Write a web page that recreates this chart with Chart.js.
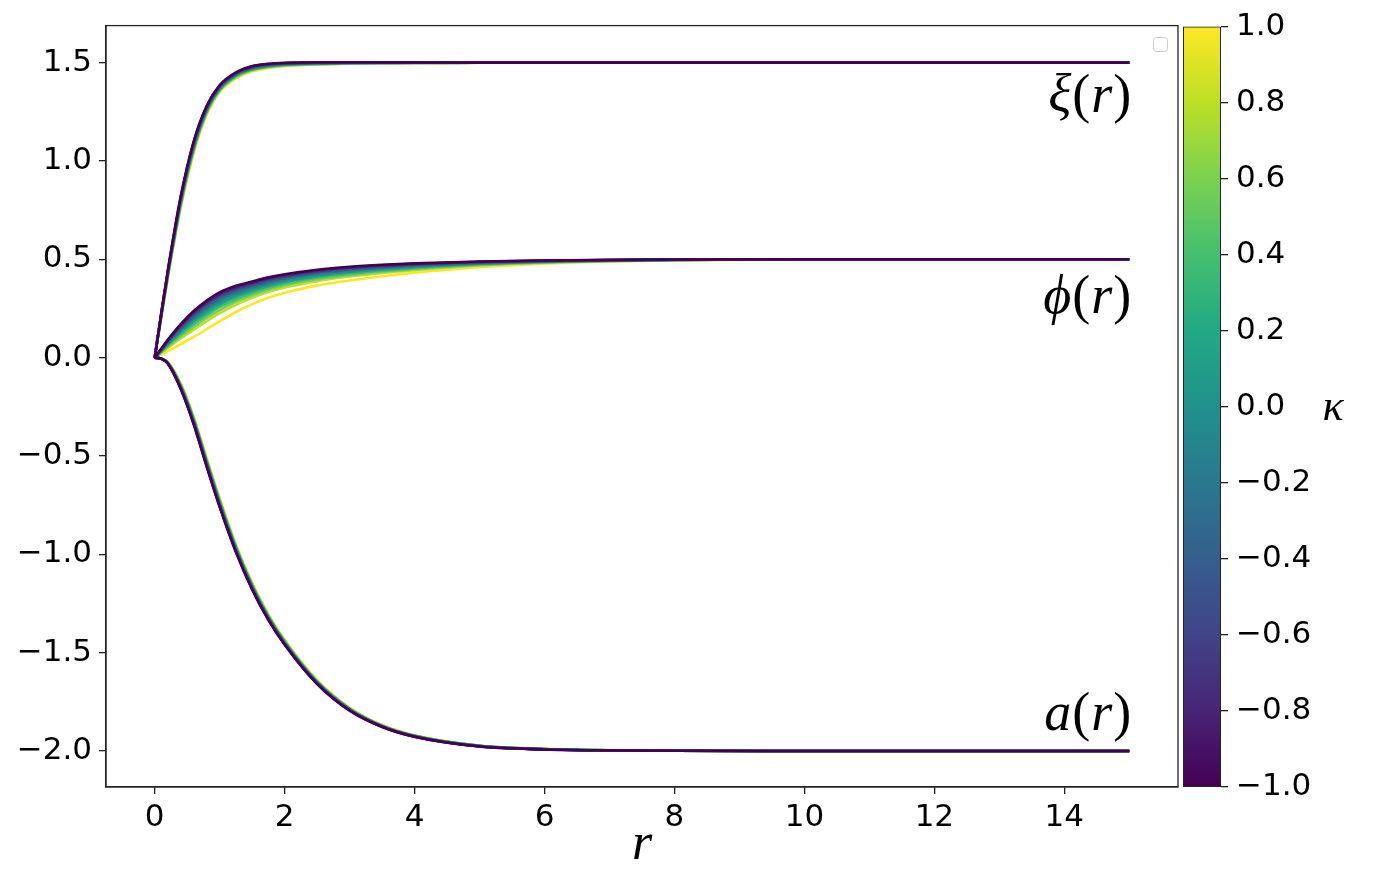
<!DOCTYPE html>
<html>
<head>
<meta charset="utf-8">
<script src="https://cdn.jsdelivr.net/npm/chart.js@4.4.1/dist/chart.umd.min.js"></script>
<style>
  body { margin: 0; background: #fff; }
  #wrap { position: relative; width: 1380px; height: 895px; }
  #wrap canvas { position: absolute; top: 0; }
</style>
</head>
<body>
<div id="wrap">
  <canvas id="mainChart" width="1380" height="895" style="left:0"></canvas>
  <canvas id="colorbar" width="230" height="895" style="left:1150px"></canvas>
</div>
<script>
// 径向坐标 r
const rValues = [0, 0.1, 0.2, 0.4, 0.6, 0.8, 1, 1.25, 1.5, 1.75, 2, 2.5, 3, 3.5, 4, 5, 6, 7, 8, 10, 15];

// 参数 κ（每条曲线一个）
const kappaValues = [-1.0, -0.8, -0.6, -0.4, -0.2, 0.0, 0.2, 0.4, 0.6, 0.8, 1.0];

// ξ(r)，按 κ 排列
const xiCurves = [
  [0, .225, .440, .820, 1.100, 1.280, 1.385, 1.450, 1.482, 1.494, 1.499, 1.502, 1.502, 1.501, 1.501, 1.500, 1.5, 1.5, 1.5, 1.5, 1.5],
  [0, .223, .436, .815, 1.095, 1.276, 1.382, 1.447, 1.480, 1.492, 1.497, 1.501, 1.501, 1.501, 1.501, 1.500, 1.5, 1.5, 1.5, 1.5, 1.5],
  [0, .221, .433, .809, 1.089, 1.272, 1.379, 1.445, 1.477, 1.490, 1.496, 1.500, 1.501, 1.500, 1.500, 1.500, 1.5, 1.5, 1.5, 1.5, 1.5],
  [0, .218, .429, .804, 1.084, 1.268, 1.376, 1.442, 1.475, 1.488, 1.494, 1.498, 1.500, 1.500, 1.500, 1.500, 1.5, 1.5, 1.5, 1.5, 1.5],
  [0, .216, .426, .798, 1.078, 1.264, 1.372, 1.439, 1.472, 1.486, 1.493, 1.497, 1.499, 1.499, 1.500, 1.500, 1.5, 1.5, 1.5, 1.5, 1.5],
  [0, .214, .422, .793, 1.073, 1.260, 1.369, 1.437, 1.470, 1.484, 1.491, 1.496, 1.498, 1.499, 1.499, 1.500, 1.5, 1.5, 1.5, 1.5, 1.5],
  [0, .211, .418, .787, 1.067, 1.255, 1.366, 1.434, 1.467, 1.482, 1.490, 1.495, 1.498, 1.498, 1.499, 1.499, 1.5, 1.5, 1.5, 1.5, 1.5],
  [0, .209, .414, .781, 1.061, 1.251, 1.362, 1.431, 1.464, 1.480, 1.488, 1.494, 1.497, 1.498, 1.498, 1.499, 1.5, 1.5, 1.5, 1.5, 1.5],
  [0, .206, .410, .775, 1.055, 1.246, 1.359, 1.428, 1.462, 1.478, 1.486, 1.492, 1.496, 1.497, 1.498, 1.499, 1.5, 1.5, 1.5, 1.5, 1.5],
  [0, .204, .406, .768, 1.048, 1.241, 1.355, 1.424, 1.459, 1.475, 1.484, 1.491, 1.495, 1.497, 1.498, 1.499, 1.5, 1.5, 1.5, 1.5, 1.5],
  [0, .200, .400, .760, 1.040, 1.235, 1.350, 1.420, 1.455, 1.472, 1.482, 1.489, 1.494, 1.496, 1.497, 1.499, 1.5, 1.5, 1.5, 1.5, 1.5]
];

// φ(r)，按 κ 排列
const phiCurves = [
  [0, .045, .090, .170, .237, .290, .332, .365, .387, .408, .424, .447, .462, .472, .479, .489, .494, .497, .499, .500, .500],
  [0, .043, .087, .164, .229, .281, .323, .357, .380, .402, .418, .442, .458, .469, .476, .487, .493, .496, .499, .500, .500],
  [0, .042, .083, .158, .221, .273, .314, .349, .373, .396, .413, .437, .454, .465, .473, .486, .492, .496, .498, .500, .500],
  [0, .039, .079, .151, .212, .262, .304, .340, .365, .388, .406, .432, .449, .461, .470, .483, .491, .495, .498, .500, .500],
  [0, .037, .075, .143, .203, .252, .294, .330, .357, .381, .400, .426, .444, .457, .467, .481, .490, .495, .498, .500, .500],
  [0, .035, .071, .135, .192, .241, .282, .320, .348, .373, .392, .419, .438, .452, .463, .479, .489, .494, .497, .500, .500],
  [0, .033, .066, .127, .182, .229, .270, .309, .339, .364, .385, .413, .433, .448, .459, .477, .487, .493, .497, .500, .500],
  [0, .030, .061, .118, .170, .216, .257, .297, .328, .355, .376, .406, .426, .442, .455, .474, .486, .492, .496, .500, .500],
  [0, .027, .055, .108, .156, .202, .242, .284, .317, .345, .367, .398, .419, .437, .450, .471, .484, .492, .496, .500, .500],
  [0, .024, .049, .097, .142, .186, .226, .269, .304, .333, .356, .389, .412, .430, .445, .468, .482, .491, .495, .500, .500],
  [0, .016, .033, .068, .105, .145, .185, .232, .272, .304, .330, .366, .392, .414, .432, .460, .478, .488, .494, .499, .500]
];

// a(r)，按 κ 排列
const aCurves = [
  [0, -.006, -.030, -.160, -.340, -.555, -.760, -.990, -1.180, -1.335, -1.460, -1.660, -1.795, -1.878, -1.928, -1.977, -1.992, -1.997, -1.999, -2, -2],
  [0, -.006, -.029, -.157, -.336, -.551, -.756, -.986, -1.177, -1.332, -1.458, -1.658, -1.794, -1.877, -1.927, -1.977, -1.992, -1.997, -1.999, -2, -2],
  [0, -.006, -.029, -.155, -.333, -.547, -.752, -.983, -1.174, -1.330, -1.456, -1.656, -1.792, -1.876, -1.927, -1.976, -1.991, -1.997, -1.999, -2, -2],
  [0, -.005, -.028, -.152, -.329, -.543, -.748, -.979, -1.171, -1.327, -1.453, -1.655, -1.791, -1.875, -1.926, -1.976, -1.991, -1.997, -1.999, -2, -2],
  [0, -.005, -.027, -.149, -.326, -.539, -.744, -.976, -1.167, -1.324, -1.451, -1.653, -1.790, -1.874, -1.925, -1.975, -1.991, -1.997, -1.999, -2, -2],
  [0, -.005, -.026, -.147, -.322, -.535, -.740, -.972, -1.164, -1.322, -1.449, -1.651, -1.788, -1.874, -1.924, -1.975, -1.991, -1.997, -1.999, -2, -2],
  [0, -.005, -.026, -.144, -.318, -.530, -.735, -.968, -1.161, -1.319, -1.446, -1.649, -1.787, -1.873, -1.924, -1.974, -1.990, -1.996, -1.999, -2, -2],
  [0, -.005, -.025, -.141, -.314, -.526, -.731, -.964, -1.157, -1.316, -1.444, -1.647, -1.785, -1.872, -1.923, -1.974, -1.990, -1.996, -1.999, -2, -2],
  [0, -.005, -.024, -.138, -.310, -.521, -.726, -.960, -1.154, -1.313, -1.441, -1.645, -1.784, -1.871, -1.922, -1.973, -1.990, -1.996, -1.999, -2, -2],
  [0, -.004, -.023, -.134, -.306, -.516, -.721, -.956, -1.150, -1.309, -1.439, -1.643, -1.782, -1.869, -1.921, -1.973, -1.989, -1.996, -1.999, -2, -2],
  [0, -.004, -.022, -.130, -.300, -.510, -.715, -.950, -1.145, -1.305, -1.435, -1.640, -1.780, -1.868, -1.920, -1.972, -1.989, -1.996, -1.999, -2, -2]
];

// 刻度
const xTicks = [0, 2, 4, 6, 8, 10, 12, 14];
const yTicks = [-2.0, -1.5, -1.0, -0.5, 0.0, 0.5, 1.0, 1.5];
const cbTicks = [-1.0, -0.8, -0.6, -0.4, -0.2, 0.0, 0.2, 0.4, 0.6, 0.8, 1.0];

// viridis 色表（与 kappaValues 一一对应）
const viridis = ['#440154', '#482475', '#414487', '#355f8d', '#2a788e', '#21918c',
                 '#22a884', '#44bf70', '#7ad151', '#bddf26', '#fde725'];

const tickFont = { family: 'DejaVu Sans', size: 31 };
const axisColor = '#222';

function fmtTick(v) {
  return (v < 0 ? '\u2212' : '') + Math.abs(v).toFixed(1);
}

function setTicks(list) {
  return function(scale) {
    scale.ticks = list.map(v => ({ value: v }));
  };
}

// 生成数据集：κ=-1 在最上层
function buildDatasets() {
  const datasets = [];
  [xiCurves, phiCurves, aCurves].forEach(curves => {
    curves.forEach((ys, k) => {
      datasets.push({
        data: rValues.map((r, i) => ({ x: r, y: ys[i] })),
        borderColor: viridis[k],
        borderWidth: 2.6,
        pointRadius: 0,
        fill: false,
        cubicInterpolationMode: 'monotone',
        order: k
      });
    });
  });
  return datasets;
}

// 类似 mathtext：字母斜体、括号正体，右对齐
function drawMath(ctx, symbol, xRight, y, size) {
  const italic = `italic ${size}px "Liberation Serif", "DejaVu Serif", serif`;
  const upright = `${size}px "Liberation Serif", "DejaVu Serif", serif`;
  const parts = [[symbol, italic], ['(', upright], ['r', italic], [')', upright]];
  let total = 0;
  parts.forEach(([t, f]) => { ctx.font = f; total += ctx.measureText(t).width + 1; });
  let x = xRight - total;
  ctx.textAlign = 'left';
  parts.forEach(([t, f]) => {
    ctx.font = f;
    ctx.fillText(t, x, y);
    x += ctx.measureText(t).width + 1;
  });
}

// 四周边框、曲线标注、空图例框
const framePlugin = {
  id: 'frame',
  afterDraw(chart) {
    const { ctx, chartArea: a, scales } = chart;
    ctx.save();
    ctx.strokeStyle = axisColor;
    ctx.lineWidth = 1.3;
    ctx.strokeRect(a.left, a.top, a.right - a.left, a.bottom - a.top);

    ctx.fillStyle = '#000';
    ctx.textBaseline = 'middle';
    const labels = [['ξ', 1.32], ['ϕ', 0.30], ['a', -1.82]];
    labels.forEach(([sym, y]) => {
      drawMath(ctx, sym, scales.x.getPixelForValue(15) + 3, scales.y.getPixelForValue(y), 54);
    });

    // 空图例
    ctx.strokeStyle = '#cccccc';
    ctx.lineWidth = 1;
    ctx.beginPath();
    ctx.roundRect(1153.5, 37.5, 14, 14, 3);
    ctx.stroke();
    ctx.restore();
  }
};

new Chart(document.getElementById('mainChart'), {
  type: 'line',
  data: { datasets: buildDatasets() },
  options: {
    responsive: false,
    animation: false,
    devicePixelRatio: 1,
    layout: { padding: { top: 25, right: 202, bottom: 0, left: 0 } },
    plugins: { legend: { display: false }, tooltip: { enabled: false } },
    scales: {
      x: {
        type: 'linear',
        min: -0.75,
        max: 15.75,
        afterBuildTicks: setTicks(xTicks),
        afterFit(scale) { scale.height = 108; },
        grid: { drawOnChartArea: false, tickLength: 7, color: axisColor, lineWidth: 1.3 },
        border: { display: true, color: axisColor, width: 1.3 },
        ticks: { font: tickFont, color: '#000', padding: 5, maxRotation: 0,
                 callback: v => String(v) },
        title: { display: true, text: 'r', color: '#000',
                 font: { family: 'Liberation Serif', style: 'italic', size: 52 },
                 padding: { top: 0, bottom: 18 } }
      },
      y: {
        type: 'linear',
        min: -2.183,
        max: 1.688,
        afterBuildTicks: setTicks(yTicks),
        afterFit(scale) { scale.width = 106; },
        grid: { drawOnChartArea: false, tickLength: 7, color: axisColor, lineWidth: 1.3 },
        border: { display: true, color: axisColor, width: 1.3 },
        ticks: { font: tickFont, color: '#000', padding: 7, callback: v => fmtTick(v) }
      }
    }
  },
  plugins: [framePlugin]
});

// 色条
const kappaLabelPlugin = {
  id: 'kappaLabel',
  afterDraw(chart) {
    const { ctx, chartArea: a } = chart;
    ctx.save();
    ctx.fillStyle = '#000';
    ctx.font = 'italic 44px "Liberation Serif", "DejaVu Serif", serif';
    ctx.textAlign = 'center';
    ctx.textBaseline = 'middle';
    ctx.fillText('κ', 183, (a.top + a.bottom) / 2 + 2);
    ctx.restore();
  }
};

function colorbarGradient(context) {
  const { ctx, chartArea } = context.chart;
  if (!chartArea) return viridis[5];
  const g = ctx.createLinearGradient(0, chartArea.bottom, 0, chartArea.top);
  viridis.forEach((c, i) => g.addColorStop(i / (viridis.length - 1), c));
  return g;
}

new Chart(document.getElementById('colorbar'), {
  type: 'bar',
  data: {
    labels: ['κ'],
    datasets: [{
      data: [[kappaValues[0], kappaValues[kappaValues.length - 1]]],
      backgroundColor: colorbarGradient,
      borderColor: axisColor,
      borderWidth: 1.3,
      borderSkipped: false,
      barPercentage: 1,
      categoryPercentage: 1
    }]
  },
  options: {
    responsive: false,
    animation: false,
    devicePixelRatio: 1,
    layout: { padding: { top: 25, right: 0, bottom: 108, left: 33 } },
    plugins: { legend: { display: false }, tooltip: { enabled: false } },
    scales: {
      x: { display: false },
      y: {
        position: 'right',
        min: -1,
        max: 1,
        afterBuildTicks: setTicks(cbTicks),
        afterFit(scale) { scale.width = 159; },
        grid: { drawOnChartArea: false, tickLength: 7, color: axisColor, lineWidth: 1.3 },
        border: { display: false },
        ticks: { font: tickFont, color: '#000', padding: 8, callback: v => fmtTick(v) }
      }
    }
  },
  plugins: [kappaLabelPlugin]
});
</script>
</body>
</html>
